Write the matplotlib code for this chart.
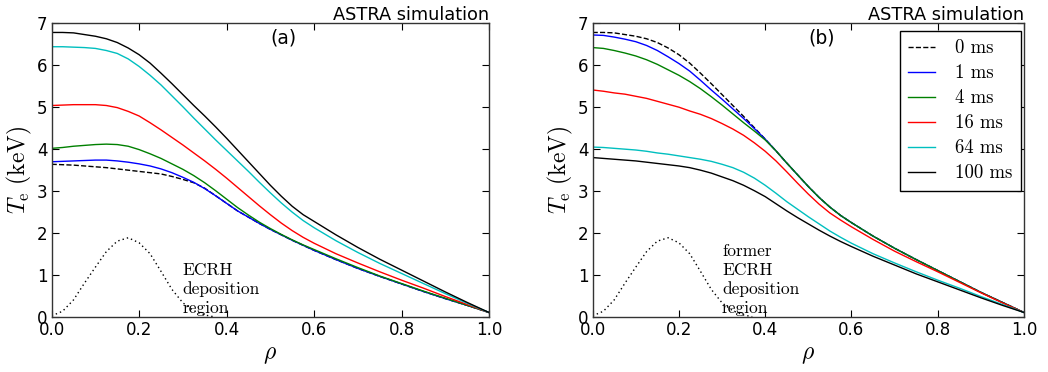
import numpy as np
import matplotlib
matplotlib.use("Agg")
import matplotlib.pyplot as plt

plt.rcParams['mathtext.fontset'] = 'cm'
plt.rcParams['font.family'] = 'DejaVu Sans'

rho = [0.0, 0.025, 0.05, 0.075, 0.1, 0.125, 0.15, 0.175, 0.2, 0.225, 0.25,
       0.275, 0.3, 0.325, 0.35, 0.375, 0.4, 0.425, 0.45, 0.475, 0.5, 0.525,
       0.55, 0.575, 0.6, 0.65, 0.7, 0.75, 0.8, 0.85, 0.9, 0.95, 1.0]
times = ['0 ms', '1 ms', '4 ms', '16 ms', '64 ms', '100 ms']

# (a) heating switched on
te_a_0 = [3.63, 3.62, 3.61, 3.59, 3.57, 3.55, 3.52, 3.49, 3.46, 3.43, 3.40,
          3.34, 3.27, 3.19, 3.06, 2.88, 2.70, 2.52, 2.37, 2.22, 2.08, 1.95,
          1.82, 1.70, 1.58, 1.36, 1.15, 0.96, 0.78, 0.60, 0.43, 0.27, 0.10]
te_a_1 = [3.69, 3.70, 3.71, 3.72, 3.73, 3.73, 3.71, 3.68, 3.64, 3.59, 3.52,
          3.43, 3.32, 3.20, 3.05, 2.88, 2.70, 2.52, 2.37, 2.22, 2.08, 1.95,
          1.82, 1.70, 1.58, 1.36, 1.15, 0.96, 0.78, 0.60, 0.43, 0.27, 0.10]
te_a_4 = [4.01, 4.03, 4.06, 4.08, 4.10, 4.11, 4.10, 4.06, 3.98, 3.88, 3.77,
          3.64, 3.51, 3.36, 3.19, 3.00, 2.80, 2.60, 2.42, 2.25, 2.10, 1.96,
          1.83, 1.71, 1.60, 1.38, 1.17, 0.97, 0.79, 0.61, 0.44, 0.27, 0.10]
te_a_16 = [5.03, 5.04, 5.05, 5.05, 5.05, 5.03, 4.98, 4.89, 4.78, 4.62, 4.45,
           4.27, 4.09, 3.90, 3.71, 3.51, 3.30, 3.08, 2.86, 2.64, 2.43, 2.23,
           2.05, 1.89, 1.75, 1.50, 1.28, 1.07, 0.87, 0.68, 0.48, 0.29, 0.10]
te_a_64 = [6.43, 6.43, 6.42, 6.41, 6.39, 6.34, 6.27, 6.14, 5.96, 5.75, 5.52,
           5.26, 5.00, 4.73, 4.47, 4.21, 3.96, 3.71, 3.46, 3.20, 2.95, 2.71,
           2.49, 2.29, 2.12, 1.81, 1.53, 1.27, 1.03, 0.79, 0.55, 0.32, 0.10]
te_a_100 = [6.77, 6.77, 6.76, 6.72, 6.68, 6.62, 6.53, 6.40, 6.24, 6.04, 5.80,
            5.55, 5.29, 5.03, 4.78, 4.52, 4.25, 3.97, 3.69, 3.41, 3.13, 2.87,
            2.63, 2.43, 2.27, 1.95, 1.65, 1.37, 1.11, 0.85, 0.59, 0.34, 0.10]

# (b) heating switched off
te_b_0 = [6.77, 6.77, 6.76, 6.72, 6.68, 6.62, 6.53, 6.40, 6.24, 6.04, 5.80,
          5.55, 5.29, 5.03, 4.77, 4.50, 4.23, 3.95, 3.66, 3.38, 3.10, 2.84,
          2.61, 2.41, 2.24, 1.92, 1.63, 1.36, 1.10, 0.84, 0.58, 0.34, 0.10]
te_b_1 = [6.71, 6.70, 6.66, 6.61, 6.55, 6.46, 6.34, 6.19, 6.03, 5.85, 5.63,
          5.40, 5.18, 4.95, 4.72, 4.48, 4.23, 3.95, 3.66, 3.38, 3.10, 2.84,
          2.61, 2.41, 2.24, 1.92, 1.63, 1.36, 1.10, 0.84, 0.58, 0.34, 0.10]
te_b_4 = [6.41, 6.39, 6.34, 6.28, 6.21, 6.12, 6.01, 5.88, 5.75, 5.60, 5.43,
          5.24, 5.04, 4.83, 4.62, 4.42, 4.21, 3.95, 3.66, 3.38, 3.10, 2.84,
          2.61, 2.41, 2.24, 1.92, 1.63, 1.36, 1.10, 0.84, 0.58, 0.34, 0.10]
te_b_16 = [5.40, 5.37, 5.33, 5.30, 5.25, 5.20, 5.13, 5.06, 4.99, 4.90, 4.82,
           4.72, 4.60, 4.47, 4.32, 4.14, 3.94, 3.71, 3.45, 3.18, 2.92, 2.68,
           2.47, 2.30, 2.14, 1.84, 1.56, 1.31, 1.07, 0.82, 0.57, 0.33, 0.10]
te_b_64 = [4.04, 4.03, 4.01, 3.99, 3.97, 3.94, 3.90, 3.87, 3.83, 3.79, 3.75,
           3.70, 3.63, 3.55, 3.44, 3.30, 3.13, 2.94, 2.74, 2.56, 2.38, 2.21,
           2.04, 1.89, 1.75, 1.50, 1.28, 1.07, 0.87, 0.68, 0.48, 0.29, 0.10]
te_b_100 = [3.79, 3.77, 3.75, 3.73, 3.71, 3.68, 3.65, 3.62, 3.59, 3.55, 3.49,
            3.42, 3.33, 3.24, 3.13, 3.00, 2.86, 2.69, 2.52, 2.36, 2.21, 2.06,
            1.92, 1.79, 1.67, 1.44, 1.23, 1.02, 0.83, 0.64, 0.45, 0.27, 0.10]

# ECRH power deposition profile (arb. units)
rho_dep = [0.0, 0.025, 0.05, 0.075, 0.1, 0.125, 0.15, 0.175, 0.2, 0.225,
           0.25, 0.275, 0.3, 0.325, 0.35, 0.37]
p_dep = [0.02, 0.13, 0.40, 0.80, 1.18, 1.55, 1.80, 1.88, 1.76, 1.50,
         1.08, 0.65, 0.33, 0.14, 0.04, 0.0]

styles = [dict(color='k', ls='--'), dict(color='b'), dict(color='g'),
          dict(color='r'), dict(color='c'), dict(color='k')]

fig = plt.figure(figsize=(10.48, 3.72), dpi=100)
ax1 = fig.add_axes([0.0493, 0.1487, 0.4173, 0.790])
ax2 = fig.add_axes([0.5655, 0.1487, 0.4116, 0.790])

panels = [(ax1, [te_a_0, te_a_1, te_a_4, te_a_16, te_a_64, te_a_100], '(a)',
           'ECRH\ndeposition\nregion'),
          (ax2, [te_b_0, te_b_1, te_b_4, te_b_16, te_b_64, te_b_100], '(b)',
           'former\nECRH\ndeposition\nregion')]

for ax, profiles, tag, note in panels:
    for te, st, lab in zip(profiles, styles, times):
        ax.plot(rho, te, lw=1.0, label=lab, **st)
    ax.plot(rho_dep, p_dep, color='k', lw=1.0, dashes=(1, 2.2))
    ax.set_xlim(0, 1)
    ax.set_ylim(0, 7)
    ax.set_xticks([0.0, 0.2, 0.4, 0.6, 0.8, 1.0])
    ax.set_yticks(range(8))
    ax.xaxis.set_major_formatter(matplotlib.ticker.FormatStrFormatter('%.1f'))
    ax.tick_params(direction='in', top=True, right=True, length=5,
                   labelsize=12, pad=3)
    for sp in ax.spines.values():
        sp.set_linewidth(1.0)
        sp.set_color('#333333')
    ax.set_xlabel(r'$\rho$', fontsize=17, labelpad=2)
    ax.set_ylabel(r'$T_\mathrm{e}\ (\mathrm{keV})$', fontsize=17, labelpad=2)
    ax.set_title('ASTRA simulation', loc='right', fontsize=12.8, pad=2)
    ax.text(0.5, 6.64, tag, ha='left', va='center', fontsize=13.5)
    ax.text(0.3, 0.08, note, ha='left', va='baseline', fontsize=12.5,
            family='cmr10', linespacing=1.3)

ax2.legend(loc='upper right', bbox_to_anchor=(0.993, 0.973),
           prop={'family': 'cmr10', 'size': 13.5},
           handlelength=1.4, handletextpad=1.1, labelspacing=0.38,
           borderpad=0.45, fancybox=False, edgecolor='k', framealpha=1,
           borderaxespad=0)
ax2.get_legend().get_frame().set_linewidth(1.0)

fig.savefig('out.png', dpi=100)
